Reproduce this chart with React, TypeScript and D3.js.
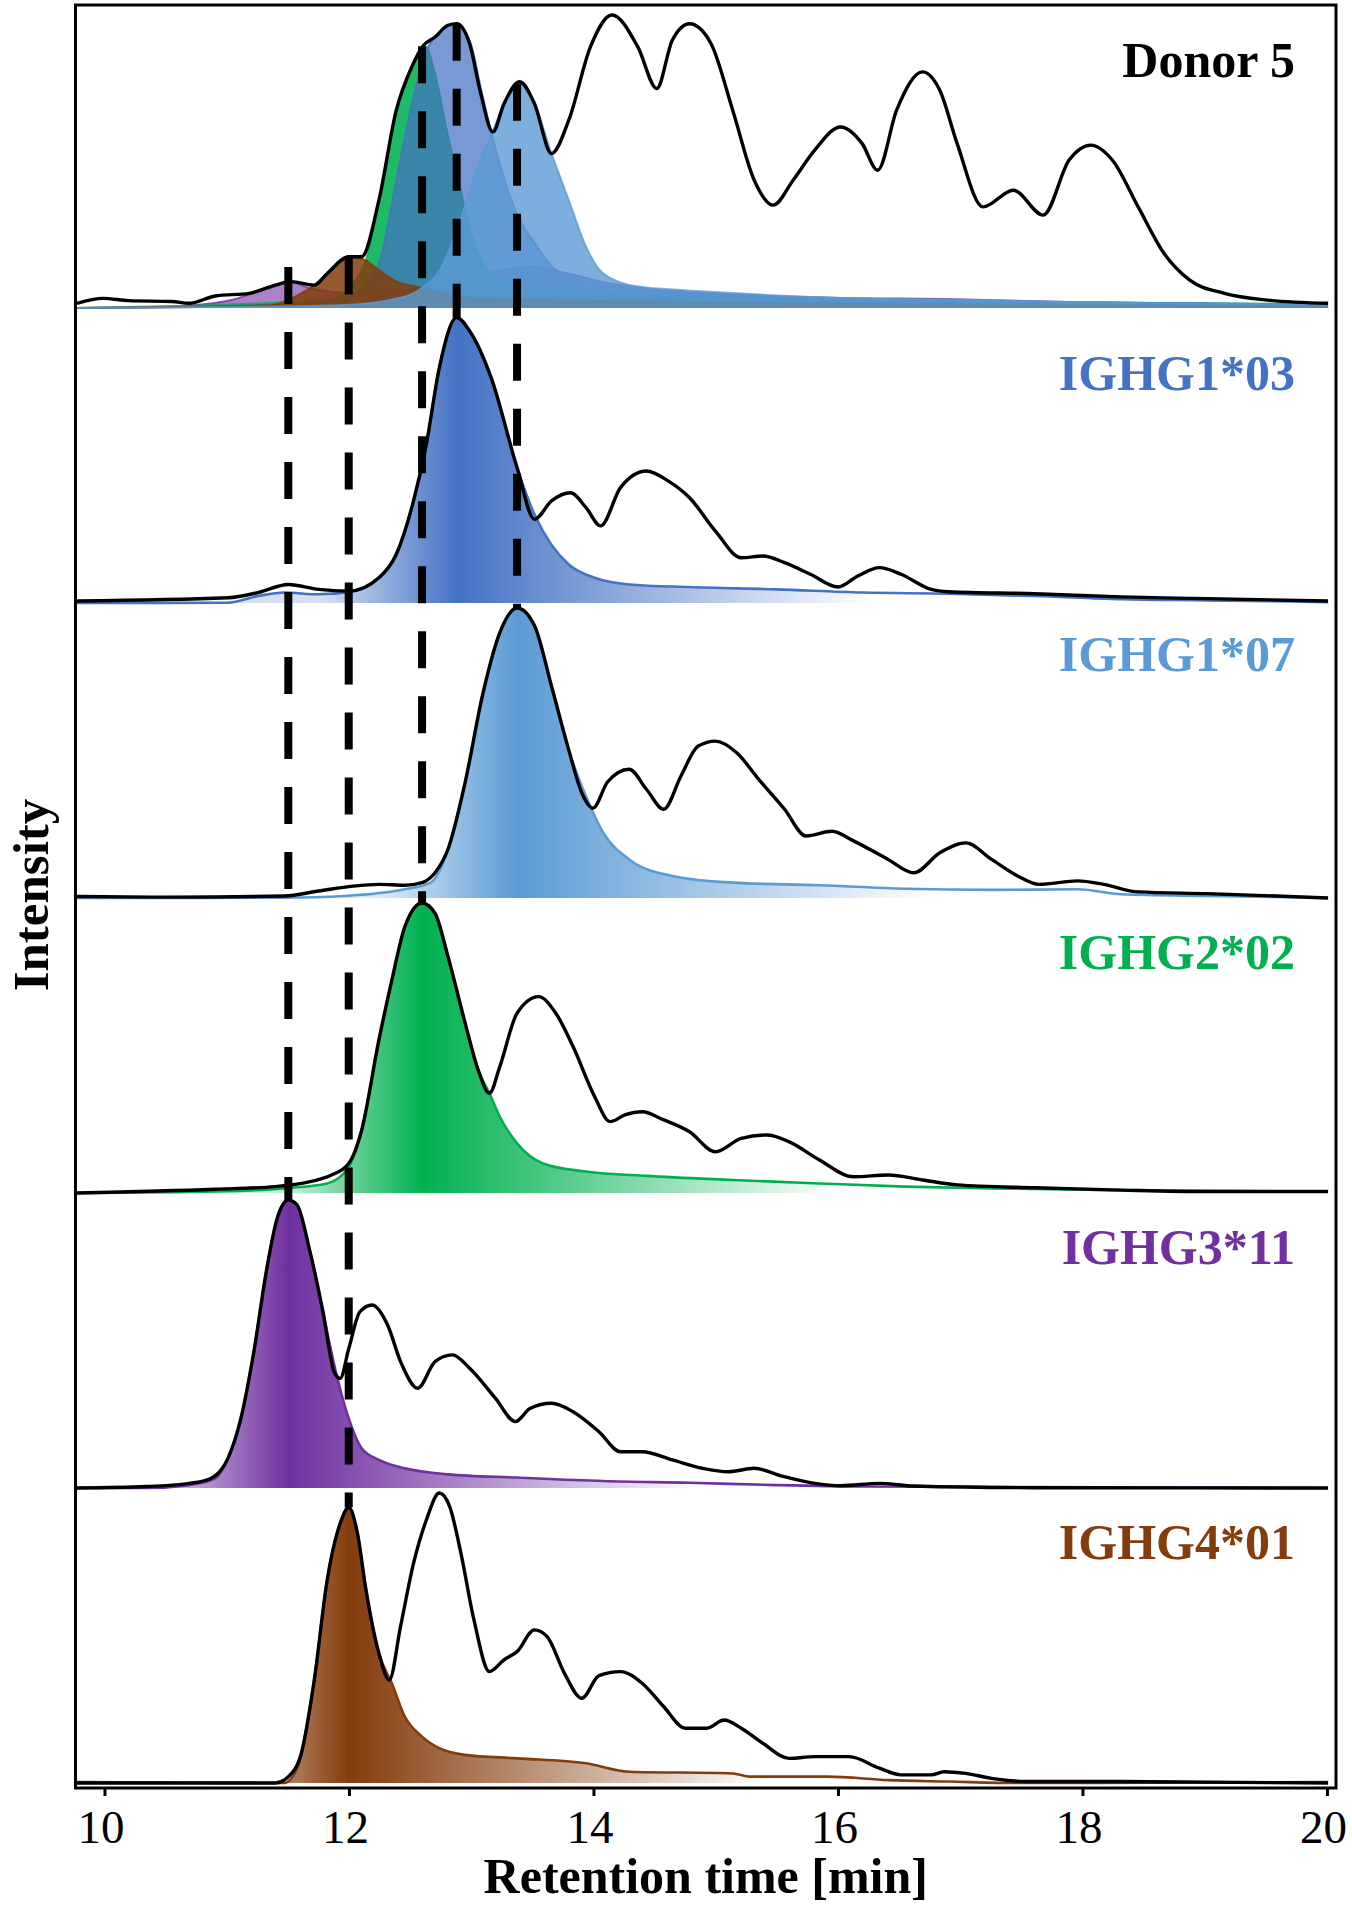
import React from 'react';
import * as d3 from 'd3';

type Pt = [number, number];

// ---------- data (retention time [min], relative intensity) ----------
const X_TICKS = [10, 12, 14, 16, 18, 20];
const PANEL_NAMES = ['Donor 5', 'IGHG1*03', 'IGHG1*07', 'IGHG2*02', 'IGHG3*11', 'IGHG4*01'];
const GENE_COLORS = ['#4472C4', '#5B9BD5', '#00B050', '#7030A0', '#843C0C'];

const donor5Total: Pt[] = [
  [9.771, 0.016], [9.983, 0.033], [10.195, 0.025], [10.548, 0.022], [10.689, 0.016], [10.901, 0.041],
  [11.183, 0.05], [11.359, 0.073], [11.522, 0.09], [11.712, 0.078], [11.818, 0.118], [11.994, 0.175],
  [12.1, 0.175], [12.241, 0.368], [12.383, 0.675], [12.51, 0.823], [12.608, 0.897], [12.7, 0.925],
  [12.806, 0.965], [12.877, 0.97], [12.983, 0.902], [13.074, 0.732], [13.173, 0.601], [13.265, 0.698],
  [13.392, 0.772], [13.513, 0.698], [13.653, 0.527], [13.794, 0.641], [13.971, 0.891], [14.147, 1.0],
  [14.359, 0.891], [14.514, 0.749], [14.641, 0.914], [14.782, 0.97], [14.958, 0.902], [15.135, 0.675],
  [15.311, 0.436], [15.467, 0.351], [15.629, 0.436], [15.806, 0.539], [16.017, 0.618], [16.194, 0.561],
  [16.321, 0.47], [16.476, 0.675], [16.688, 0.806], [16.829, 0.743], [16.971, 0.561], [17.183, 0.345],
  [17.43, 0.402], [17.675, 0.317], [17.887, 0.505], [18.064, 0.556], [18.24, 0.505], [18.452, 0.345],
  [18.664, 0.186], [18.874, 0.095], [19.157, 0.05], [19.51, 0.027], [20.005, 0.016],
];

const ighg1_03Total: Pt[] = [
  [9.771, 0.007], [11.006, 0.018], [11.253, 0.036], [11.5, 0.064], [11.748, 0.047], [11.994, 0.041],
  [12.241, 0.087], [12.383, 0.168], [12.524, 0.352], [12.629, 0.547], [12.735, 0.811], [12.877, 0.984],
  [12.983, 0.938], [13.159, 0.777], [13.371, 0.467], [13.513, 0.289], [13.653, 0.352], [13.808, 0.38],
  [13.935, 0.329], [14.055, 0.266], [14.217, 0.398], [14.429, 0.455], [14.606, 0.421], [14.782, 0.363],
  [14.994, 0.248], [15.205, 0.156], [15.382, 0.162], [15.559, 0.139], [15.771, 0.099], [15.996, 0.055],
  [16.158, 0.093], [16.335, 0.122], [16.512, 0.099], [16.758, 0.047], [16.9, 0.039], [17.605, 0.032],
  [18.311, 0.021], [19.016, 0.015], [20.005, 0.007],
];
const ighg1_03Peak: Pt[] = [
  [9.771, 0.0], [11.006, 0.001], [11.253, 0.024], [11.465, 0.036], [11.748, 0.03], [12.029, 0.04],
  [12.241, 0.087], [12.383, 0.168], [12.524, 0.352], [12.629, 0.547], [12.735, 0.811], [12.877, 0.984],
  [12.983, 0.938], [13.159, 0.777], [13.371, 0.467], [13.513, 0.306], [13.653, 0.2], [13.794, 0.133],
  [14.006, 0.087], [14.288, 0.064], [14.782, 0.055], [15.488, 0.047], [16.194, 0.036], [16.9, 0.032],
  [17.605, 0.024], [18.311, 0.013], [19.016, 0.009], [20.005, 0.003],
];

const ighg1_07Total: Pt[] = [
  [9.771, 0.005], [10.548, 0.003], [11.465, 0.007], [11.748, 0.024], [12.029, 0.041], [12.241, 0.047],
  [12.453, 0.044], [12.594, 0.053], [12.7, 0.087], [12.806, 0.168], [12.947, 0.4], [13.089, 0.7],
  [13.23, 0.915], [13.371, 1.0], [13.513, 0.94], [13.653, 0.73], [13.794, 0.51], [13.9, 0.363],
  [13.992, 0.31], [14.111, 0.4], [14.288, 0.444], [14.429, 0.375], [14.571, 0.306], [14.711, 0.42],
  [14.853, 0.524], [14.994, 0.541], [15.17, 0.5], [15.346, 0.41], [15.559, 0.306], [15.735, 0.214],
  [15.947, 0.23], [16.123, 0.197], [16.406, 0.133], [16.617, 0.087], [16.829, 0.156], [17.041, 0.19],
  [17.253, 0.133], [17.466, 0.076], [17.64, 0.047], [17.958, 0.059], [18.17, 0.047], [18.452, 0.021],
  [19.016, 0.015], [19.581, 0.007], [20.005, 0.0],
];
const ighg1_07Peak: Pt[] = [
  [9.771, 0.0], [11.465, 0.001], [11.959, 0.007], [12.453, 0.03], [12.665, 0.053], [12.806, 0.168],
  [12.947, 0.4], [13.089, 0.7], [13.23, 0.915], [13.371, 1.0], [13.513, 0.94], [13.653, 0.73],
  [13.794, 0.51], [13.935, 0.35], [14.076, 0.225], [14.288, 0.133], [14.641, 0.076], [15.135, 0.053],
  [15.841, 0.044], [16.546, 0.032], [17.253, 0.028], [17.958, 0.03], [18.311, 0.013], [19.016, 0.007],
  [20.005, 0.001],
];

const ighg2_02Total: Pt[] = [
  [9.771, 0.0], [10.901, 0.013], [11.394, 0.022], [11.677, 0.039], [11.853, 0.062], [11.994, 0.102],
  [12.1, 0.217], [12.241, 0.528], [12.347, 0.734], [12.453, 0.918], [12.594, 1.0], [12.7, 0.964],
  [12.806, 0.815], [12.947, 0.585], [13.053, 0.424], [13.145, 0.344], [13.23, 0.436], [13.371, 0.62],
  [13.548, 0.677], [13.688, 0.62], [13.829, 0.505], [14.006, 0.332], [14.132, 0.246], [14.253, 0.269],
  [14.394, 0.28], [14.571, 0.252], [14.782, 0.211], [14.994, 0.142], [15.205, 0.188], [15.417, 0.2],
  [15.594, 0.177], [15.841, 0.115], [16.123, 0.056], [16.406, 0.062], [16.688, 0.045], [16.971, 0.028],
  [17.605, 0.018], [18.311, 0.01], [19.016, 0.005], [20.005, 0.005],
];
const ighg2_02Peak: Pt[] = [
  [9.771, 0.0], [10.901, 0.005], [11.465, 0.016], [11.818, 0.033], [11.994, 0.09], [12.1, 0.217],
  [12.241, 0.528], [12.347, 0.734], [12.453, 0.918], [12.594, 1.0], [12.7, 0.964], [12.806, 0.815],
  [12.947, 0.585], [13.053, 0.424], [13.145, 0.344], [13.23, 0.263], [13.371, 0.171], [13.583, 0.102],
  [13.935, 0.074], [14.429, 0.059], [15.135, 0.045], [15.841, 0.033], [16.546, 0.022], [17.253, 0.016],
  [18.311, 0.01], [20.005, 0.005],
];

const ighg3_11Total: Pt[] = [
  [9.771, 0.0], [10.336, 0.005], [10.689, 0.016], [10.865, 0.033], [11.006, 0.102], [11.112, 0.24],
  [11.218, 0.47], [11.324, 0.757], [11.409, 0.93], [11.5, 0.993], [11.571, 0.976], [11.677, 0.815],
  [11.783, 0.608], [11.875, 0.4], [11.924, 0.378], [11.994, 0.48], [12.086, 0.608], [12.185, 0.631],
  [12.312, 0.562], [12.418, 0.436], [12.559, 0.344], [12.7, 0.436], [12.842, 0.459], [12.983, 0.413],
  [13.195, 0.309], [13.357, 0.229], [13.477, 0.274], [13.653, 0.292], [13.829, 0.263], [14.041, 0.194],
  [14.217, 0.125], [14.394, 0.125], [14.641, 0.097], [14.888, 0.068], [15.1, 0.056], [15.311, 0.068],
  [15.523, 0.043], [15.806, 0.016], [16.017, 0.008], [16.335, 0.016], [16.617, 0.007], [17.605, 0.001],
  [20.005, 0.0],
];
const ighg3_11Peak: Pt[] = [
  [9.771, 0.0], [10.336, 0.0], [10.689, 0.01], [10.901, 0.033], [11.006, 0.102], [11.112, 0.24],
  [11.218, 0.47], [11.324, 0.757], [11.409, 0.93], [11.5, 0.993], [11.571, 0.976], [11.677, 0.815],
  [11.783, 0.608], [11.889, 0.4], [11.994, 0.24], [12.1, 0.137], [12.241, 0.097], [12.453, 0.068],
  [12.806, 0.047], [13.371, 0.036], [14.076, 0.024], [14.782, 0.018], [15.488, 0.01], [16.194, 0.005],
  [20.005, 0.0],
];

const ighg4_01Total: Pt[] = [
  [9.771, 0.0], [11.394, 0.0], [11.5, 0.022], [11.606, 0.102], [11.712, 0.355], [11.818, 0.7],
  [11.924, 0.895], [11.994, 0.95], [12.065, 0.862], [12.135, 0.666], [12.241, 0.447], [12.326, 0.355],
  [12.418, 0.54], [12.524, 0.757], [12.629, 0.907], [12.735, 1.0], [12.82, 0.953], [12.912, 0.792],
  [13.018, 0.563], [13.145, 0.384], [13.265, 0.425], [13.371, 0.453], [13.513, 0.528], [13.617, 0.505],
  [13.759, 0.378], [13.9, 0.292], [14.041, 0.37], [14.217, 0.384], [14.394, 0.344], [14.571, 0.263],
  [14.747, 0.189], [14.923, 0.189], [15.064, 0.217], [15.205, 0.189], [15.382, 0.137], [15.594, 0.085],
  [15.806, 0.091], [16.088, 0.091], [16.335, 0.051], [16.512, 0.028], [16.758, 0.028], [16.865, 0.039],
  [17.041, 0.033], [17.253, 0.016], [17.534, 0.005], [18.311, 0.005], [20.005, 0.0],
];
const ighg4_01Peak: Pt[] = [
  [9.771, 0.003], [11.465, 0.0], [11.571, 0.05], [11.712, 0.355], [11.818, 0.7], [11.924, 0.895],
  [11.994, 0.95], [12.065, 0.862], [12.135, 0.666], [12.241, 0.447], [12.347, 0.344], [12.453, 0.229],
  [12.594, 0.16], [12.735, 0.12], [12.947, 0.097], [13.371, 0.085], [13.935, 0.068], [14.288, 0.039],
  [15.135, 0.033], [15.276, 0.022], [15.911, 0.022], [16.406, 0.01], [16.9, 0.005], [17.466, 0.0],
  [20.005, 0.003],
];

// allotype traces as they appear inside the Donor 5 chromatogram
const ighg1_03InDonor: Pt[] = [
  [9.771, 0.0], [10.96, 0.005], [11.76, 0.02], [12.0, 0.04], [12.14, 0.08], [12.25, 0.164], [12.39, 0.45],
  [12.5, 0.676], [12.63, 0.88], [12.74, 0.94], [12.86, 0.97], [12.99, 0.905], [13.08, 0.74], [13.16, 0.6],
  [13.26, 0.45], [13.36, 0.33], [13.52, 0.22], [13.66, 0.14], [13.86, 0.1], [14.16, 0.075], [14.76, 0.05],
  [15.96, 0.03], [17.96, 0.02], [20.0, 0.012],
];
const ighg1_07InDonor: Pt[] = [
  [9.771, 0.0], [11.46, 0.005], [11.96, 0.01], [12.36, 0.03], [12.6, 0.07], [12.74, 0.13], [12.93, 0.33],
  [13.07, 0.505], [13.17, 0.6], [13.265, 0.7], [13.39, 0.765], [13.513, 0.698], [13.653, 0.527],
  [13.794, 0.368], [13.935, 0.209], [14.076, 0.118], [14.359, 0.073], [14.76, 0.06], [15.16, 0.05],
  [15.96, 0.035], [16.96, 0.028], [17.96, 0.02], [18.96, 0.015], [20.0, 0.012],
];
const ighg2_02InDonor: Pt[] = [
  [9.771, 0.0], [11.818, 0.027], [12.029, 0.084], [12.135, 0.164], [12.241, 0.368], [12.383, 0.672],
  [12.51, 0.82], [12.62, 0.893], [12.7, 0.8], [12.8, 0.6], [12.9, 0.42], [13.0, 0.25], [13.1, 0.15],
  [13.25, 0.09], [13.5, 0.07], [14.076, 0.055], [14.782, 0.04], [16.194, 0.027], [17.605, 0.02],
  [20.005, 0.014],
];
const ighg3_11InDonor: Pt[] = [
  [9.771, 0.0], [10.56, 0.005], [10.86, 0.015], [11.06, 0.03], [11.26, 0.06], [11.41, 0.082], [11.522, 0.088],
  [11.66, 0.07], [11.86, 0.055], [12.06, 0.05], [12.36, 0.06], [12.66, 0.075], [12.96, 0.1], [13.26, 0.13],
  [13.5, 0.14], [13.76, 0.12], [14.06, 0.09], [14.46, 0.065], [14.96, 0.05], [15.96, 0.035], [16.96, 0.03],
  [17.96, 0.02], [18.96, 0.015], [20.0, 0.01],
];
const ighg4_01InDonor: Pt[] = [
  [9.771, 0.0], [11.36, 0.01], [11.56, 0.04], [11.71, 0.078], [11.818, 0.118], [11.93, 0.16], [11.994, 0.172],
  [12.1, 0.168], [12.24, 0.13], [12.39, 0.09], [12.55, 0.073], [12.76, 0.05], [12.96, 0.035], [13.96, 0.025],
  [15.96, 0.015], [20.0, 0.008],
];

const PANEL_TOTALS = [donor5Total, ighg1_03Total, ighg1_07Total, ighg2_02Total, ighg3_11Total, ighg4_01Total];
const GENE_PEAKS = [ighg1_03Peak, ighg1_07Peak, ighg2_02Peak, ighg3_11Peak, ighg4_01Peak];
const DONOR_OVERLAYS = [ighg1_03InDonor, ighg1_07InDonor, ighg2_02InDonor, ighg3_11InDonor, ighg4_01InDonor];

// ---------- layout ----------
const W = 1352;
const H = 1910;
const FRAME = { left: 75.5, right: 1336, top: 5, bottom: 1788 };
const FIRST_BASE = 308;
const PANEL_STEP = 295;
const LABEL_RISE = 224;
const LABEL_DY = [-7, 11, -3, 0, 0, 0];
const OVERLAY_ORDER = [3, 2, 0, 4, 1];
const OVERLAY_OPACITY = [0.72, 0.8, 0.88, 0.6, 0.85];
const FONT = "'Liberation Serif', 'Times New Roman', Times, serif";

export default function App() {
  const x = d3.scaleLinear().domain([9.759, 20.07]).range([FRAME.left, FRAME.right]);
  const base = (i: number) => FIRST_BASE + PANEL_STEP * i;
  const unit = (i: number) => (i === 0 ? 293 : 290);
  const yv = (i: number, v: number) => base(i) - v * unit(i);
  const line = (i: number) =>
    d3.line<Pt>().x((d) => x(d[0])).y((d) => yv(i, d[1])).curve(d3.curveMonotoneX);
  const area = (i: number) =>
    d3.area<Pt>().x((d) => x(d[0])).y0(base(i)).y1((d) => yv(i, d[1])).curve(d3.curveMonotoneX);
  const argmax = (s: Pt[]) => s.reduce((a, b) => (b[1] > a[1] ? b : a));

  const LEFT_SPAN = 1.1;
  const RIGHT_SPAN = 3.4;

  return (
    <svg
      width={W}
      height={H}
      viewBox={`0 0 ${W} ${H}`}
      style={{ position: 'absolute', left: 0, top: 0, background: '#fff' }}
    >
      <defs>
        {GENE_PEAKS.map((s, g) => {
          const pk = argmax(s)[0];
          return (
            <linearGradient
              key={g}
              id={`grad${g}`}
              gradientUnits="userSpaceOnUse"
              x1={x(pk - LEFT_SPAN)}
              x2={x(pk + RIGHT_SPAN)}
              y1={0}
              y2={0}
            >
              <stop offset="0" stopColor={GENE_COLORS[g]} stopOpacity={0.22} />
              <stop offset={LEFT_SPAN / (LEFT_SPAN + RIGHT_SPAN)} stopColor={GENE_COLORS[g]} stopOpacity={1} />
              <stop offset="1" stopColor={GENE_COLORS[g]} stopOpacity={0} />
            </linearGradient>
          );
        })}
        <clipPath id="frameClip">
          <rect x={FRAME.left} y={FRAME.top} width={FRAME.right - FRAME.left} height={FRAME.bottom - FRAME.top} />
        </clipPath>
      </defs>
      <rect x={0} y={0} width={W} height={H} fill="#fff" />

      <g clipPath="url(#frameClip)">
        {/* top panel: overlays */}
        {OVERLAY_ORDER.map((g) => (
          <g key={`ov${g}`}>
            <path d={area(0)(DONOR_OVERLAYS[g]) || ''} fill={GENE_COLORS[g]} fillOpacity={OVERLAY_OPACITY[g]} />
            <path
              d={line(0)(DONOR_OVERLAYS[g]) || ''}
              fill="none"
              stroke={GENE_COLORS[g]}
              strokeOpacity={0.8}
              strokeWidth={2}
            />
          </g>
        ))}
        <path d={line(0)(donor5Total) || ''} fill="none" stroke="#000" strokeWidth={3.4} strokeLinejoin="round" />

        {/* single allotype panels */}
        {GENE_PEAKS.map((s, g) => {
          const p = g + 1;
          return (
            <g key={`p${p}`}>
              <path d={area(p)(s) || ''} fill={`url(#grad${g})`} />
              <path d={line(p)(s) || ''} fill="none" stroke={GENE_COLORS[g]} strokeWidth={2.6} />
              <path
                d={line(p)(PANEL_TOTALS[p]) || ''}
                fill="none"
                stroke="#000"
                strokeWidth={3.4}
                strokeLinejoin="round"
              />
            </g>
          );
        })}

        {/* dashed connectors */}
        {GENE_PEAKS.map((s, g) => {
          const pk = argmax(s);
          const top = argmax(DONOR_OVERLAYS[g]);
          return (
            <line
              key={`d${g}`}
              x1={x(pk[0])}
              x2={x(pk[0])}
              y1={yv(0, top[1])}
              y2={yv(g + 1, pk[1])}
              stroke="#000"
              strokeWidth={8}
              strokeDasharray="37 28"
            />
          );
        })}
      </g>

      {/* frame */}
      <rect
        x={FRAME.left}
        y={FRAME.top}
        width={FRAME.right - FRAME.left}
        height={FRAME.bottom - FRAME.top}
        fill="none"
        stroke="#000"
        strokeWidth={3}
      />

      {/* x axis ticks */}
      {X_TICKS.map((t) => (
        <g key={`t${t}`}>
          <line x1={x(t)} x2={x(t)} y1={FRAME.bottom} y2={FRAME.bottom + 8} stroke="#000" strokeWidth={3} />
          <text
            x={x(t) - 4}
            y={1843}
            textAnchor="middle"
            fontFamily={FONT}
            fontSize={47}
            fill="#000"
          >
            {t}
          </text>
        </g>
      ))}
      <text
        x={(FRAME.left + FRAME.right) / 2}
        y={1893}
        textAnchor="middle"
        fontFamily={FONT}
        fontWeight="bold"
        fontSize={50}
        fill="#000"
      >
        Retention time [min]
      </text>
      <text
        transform={`translate(48, 895) rotate(-90)`}
        textAnchor="middle"
        fontFamily={FONT}
        fontWeight="bold"
        fontSize={51}
        fill="#000"
      >
        Intensity
      </text>

      {/* panel labels */}
      {PANEL_NAMES.map((name, i) => (
        <text
          key={name}
          x={1295}
          y={base(i) - LABEL_RISE + LABEL_DY[i]}
          textAnchor="end"
          fontFamily={FONT}
          fontWeight="bold"
          fontSize={50}
          fill={i === 0 ? '#000' : GENE_COLORS[i - 1]}
        >
          {name}
        </text>
      ))}
    </svg>
  );
}
